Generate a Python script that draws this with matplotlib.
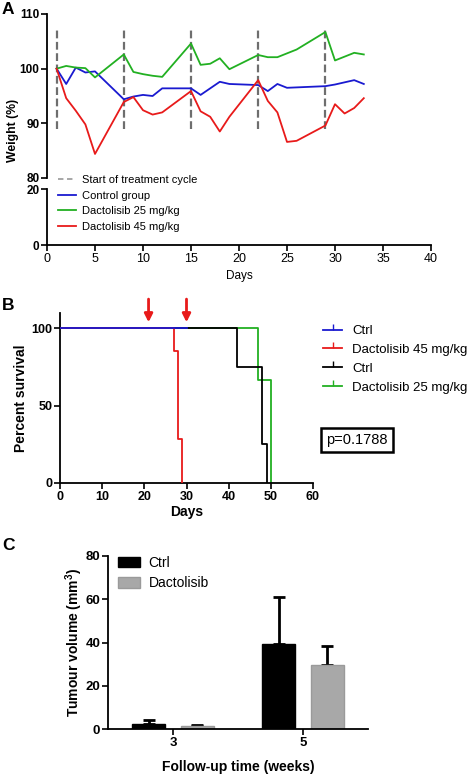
import matplotlib
matplotlib.use('Agg')
import matplotlib.pyplot as plt
from matplotlib.lines import Line2D

plt.rcParams['font.family'] = ['Liberation Sans', 'DejaVu Sans']
plt.rcParams['mathtext.default'] = 'regular'

# ---------------- data ----------------
# Panel A: body weight (%)
ctrl_days = [1, 2, 3, 4, 5, 8, 9, 10, 11, 12, 15, 16, 18, 19, 22, 23, 24, 25, 29, 30, 32, 33]
ctrl_weight = [100, 97.2, 100.2, 99.3, 99.5, 94.4, 94.9, 95.2, 95.0, 96.4, 96.4, 95.2,
               97.6, 97.2, 97.0, 95.9, 97.2, 96.5, 96.8, 97.1, 97.9, 97.2]
d25_days = [1, 2, 3, 4, 5, 8, 9, 10, 11, 12, 15, 16, 17, 18, 19, 22, 23, 24, 26, 29, 30, 32, 33]
d25_weight = [100, 100.5, 100.2, 100.1, 98.4, 102.6, 99.4, 99.0, 98.7, 98.5, 104.6, 100.7,
              100.9, 101.9, 99.9, 102.5, 102.1, 102.1, 103.5, 106.7, 101.5, 102.9, 102.6]
d45_days = [1, 2, 3, 4, 5, 8, 9, 10, 11, 12, 15, 16, 17, 18, 19, 22, 23, 24, 25, 26, 29, 30, 31, 32, 33]
d45_weight = [100, 94.6, 92.3, 89.8, 84.4, 93.9, 94.8, 92.4, 91.6, 92.0, 95.9, 92.2, 91.2,
              88.5, 91.2, 97.9, 94.1, 92.0, 86.6, 86.8, 89.6, 93.5, 91.8, 92.8, 94.6]
cycle_starts = [1, 8, 15, 22, 29]

# Panel B: survival (Kaplan-Meier steps)
km_ctrl1_t = [0, 30]
km_ctrl1_s = [100, 100]
km_d45_t = [0, 27, 28, 29]
km_d45_s = [100, 85.7, 28.6, 0]
km_ctrl2_t = [0, 42, 48, 49]
km_ctrl2_s = [100, 75, 25, 0]
km_d25_t = [0, 47, 50]
km_d25_s = [100, 66.7, 0]
arrow_days = [21, 30]
p_text = 'p=0.1788'

# Panel C: tumour volume
weeks = ['3', '5']
vol_ctrl = [2.3, 39.5]
vol_ctrl_err = [1.9, 21.4]
vol_dact = [1.4, 29.7]
vol_dact_err = [0.6, 8.9]

BLUE = '#1a1ad0'
GREEN = '#22b022'
RED = '#e81a1a'
GREY = '#6e6e6e'

W, H = 472, 775


def box(x0, y0, x1, y1):
    return [x0 / W, 1 - y1 / H, (x1 - x0) / W, (y1 - y0) / H]


def style(ax, bold=True, size=9):
    for s in ['top', 'right']:
        ax.spines[s].set_visible(False)
    for s in ['left', 'bottom']:
        ax.spines[s].set_linewidth(1.3)
    ax.tick_params(width=1.2, length=4, labelsize=size, pad=1.5)
    if bold:
        for t in ax.get_xticklabels() + ax.get_yticklabels():
            t.set_fontweight('bold')


fig = plt.figure(figsize=(W / 100, H / 100), dpi=100)

###############
# Panel A
###############
axT = fig.add_axes(box(47, 14, 431, 178))
axB = fig.add_axes(box(47, 189, 431, 245))

for d in cycle_starts:
    axT.plot([d, d], [89, 107], color=GREY, lw=1.6, dashes=(3.5, 1.6), zorder=1)
axT.plot(ctrl_days, ctrl_weight, color=BLUE, lw=1.3, zorder=3)
axT.plot(d25_days, d25_weight, color=GREEN, lw=1.3, zorder=3)
axT.plot(d45_days, d45_weight, color=RED, lw=1.3, zorder=3)

axT.set_xlim(0, 40)
axT.set_ylim(80, 110)
axT.set_yticks([80, 90, 100, 110])
axT.set_xticks([])
axB.set_xlim(0, 40)
axB.set_ylim(0, 20)
axB.set_yticks([0, 20])
axB.set_xticks(range(0, 41, 5))
style(axT, size=8.5)
axT.spines['bottom'].set_visible(False)
style(axB, size=8.5)
for t in axB.get_xticklabels():
    t.set_fontweight('normal')
    t.set_fontsize(9)
axB.set_xlabel('Days', fontsize=8.5, labelpad=4)
fig.text(13 / W, 1 - 130 / H, 'Weight (%)', rotation=90, ha='center', va='center',
         fontsize=8.8, fontweight='bold')

handlesA = [Line2D([], [], color='#a0a0a0', lw=1.3, dashes=(3, 2)),
            Line2D([], [], color=BLUE, lw=1.3),
            Line2D([], [], color=GREEN, lw=1.3),
            Line2D([], [], color=RED, lw=1.3)]
labelsA = ['Start of treatment cycle', 'Control group', 'Dactolisib 25 mg/kg', 'Dactolisib 45 mg/kg']
fig.legend(handlesA, labelsA, loc='upper left', bbox_to_anchor=(58 / W, 1 - 175 / H),
           frameon=False, fontsize=8, borderpad=0, borderaxespad=0,
           handlelength=1.6, handletextpad=0.6, labelspacing=0.5)

###############
# Panel B
###############
axS = fig.add_axes(box(60, 313, 313, 483))
axS.step(km_d25_t, km_d25_s, where='post', color=GREEN, lw=1.3, zorder=2)
axS.step(km_ctrl2_t, km_ctrl2_s, where='post', color='black', lw=1.3, zorder=3)
axS.step(km_d45_t, km_d45_s, where='post', color=RED, lw=1.3, zorder=4)
axS.step(km_ctrl1_t, km_ctrl1_s, where='post', color=BLUE, lw=1.3, zorder=5)
for d in arrow_days:
    axS.annotate('', xy=(d, 104), xytext=(d, 119), annotation_clip=False,
                 arrowprops=dict(arrowstyle='-|>', color=RED, lw=2, mutation_scale=12,
                                 shrinkA=0, shrinkB=0))
axS.set_xlim(0, 60)
axS.set_ylim(0, 110)
axS.set_yticks([0, 50, 100])
axS.set_xticks(range(0, 61, 10))
style(axS, size=9)
axS.set_xlabel('Days', fontsize=10, fontweight='bold', labelpad=2)
axS.set_ylabel('Percent survival', fontsize=10, fontweight='bold', labelpad=2.5)

handlesB = [Line2D([], [], color=c, lw=1.3, marker=2, markersize=4, markeredgewidth=1)
            for c in [BLUE, RED, 'black', GREEN]]
labelsB = ['Ctrl', 'Dactolisib 45 mg/kg', 'Ctrl', 'Dactolisib 25 mg/kg']
fig.legend(handlesB, labelsB, loc='upper left', bbox_to_anchor=(323 / W, 1 - 325 / H),
           frameon=False, fontsize=9.5, borderpad=0, borderaxespad=0,
           handlelength=1.45, handletextpad=0.75, labelspacing=0.5)
fig.text(357 / W, 1 - 440 / H, p_text, ha='center', va='center', fontsize=10.5,
         bbox=dict(boxstyle='square,pad=0.35', facecolor='white', edgecolor='black', lw=1.8))

###############
# Panel C
###############
axC = fig.add_axes(box(108, 556, 368, 729))
xs = range(len(weeks))
off, bw = 0.187, 0.256
axC.bar([x - off for x in xs], vol_ctrl, bw, color='black', edgecolor='black',
        label='Ctrl', zorder=2)
axC.bar([x + off for x in xs], vol_dact, bw, color='#a8a8a8', edgecolor='#9a9a9a',
        label='Dactolisib', zorder=2)
axC.errorbar([x - off for x in xs], vol_ctrl, yerr=[[0] * len(weeks), vol_ctrl_err],
             fmt='none', ecolor='black', elinewidth=2, capsize=4.3, capthick=2, zorder=1)
axC.errorbar([x + off for x in xs], vol_dact, yerr=[[0] * len(weeks), vol_dact_err],
             fmt='none', ecolor='black', elinewidth=2, capsize=4.3, capthick=2, zorder=1)
axC.set_xlim(-0.5, 1.5)
axC.set_ylim(0, 80)
axC.set_yticks([0, 20, 40, 60, 80])
axC.set_xticks(list(xs))
axC.set_xticklabels(weeks)
style(axC, size=9.5)
axC.set_xlabel('Follow-up time (weeks)', fontsize=10, fontweight='bold', labelpad=8)
axC.set_ylabel('Tumour volume (mm$^3$)', fontsize=10, fontweight='bold', labelpad=0)
axC.legend(loc='upper left', bbox_to_anchor=(10 / 260, 1.0), frameon=False, fontsize=10,
           borderpad=0, borderaxespad=0, handlelength=1.6, handleheight=0.8,
           handletextpad=0.6, labelspacing=0.45)

# panel letters
for letter, y in [('A', 9), ('B', 306), ('C', 545)]:
    fig.text(2 / W, 1 - y / H, letter, ha='left', va='center', fontsize=12.5, fontweight='bold')

plt.savefig('out.png', dpi=100)
